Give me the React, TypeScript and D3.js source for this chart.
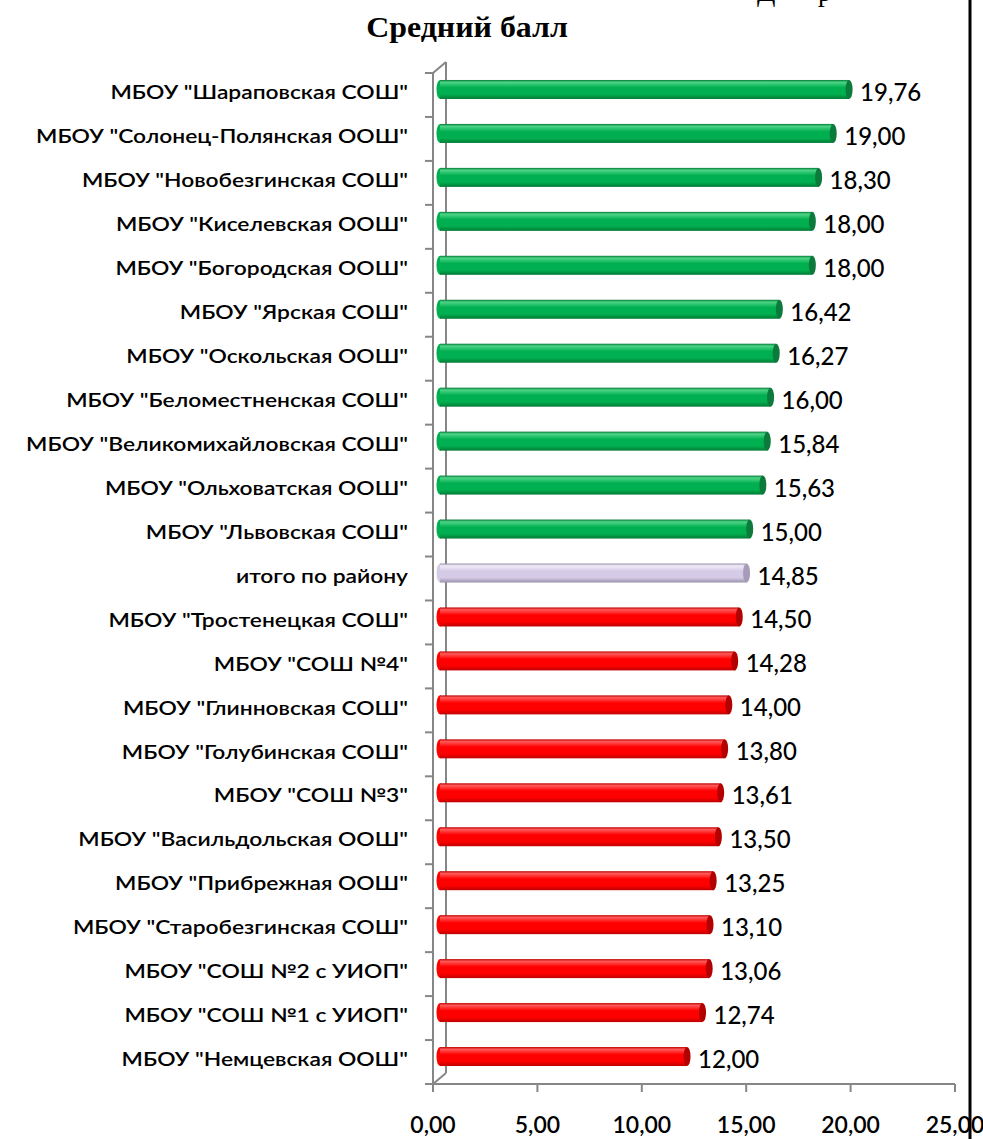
import React from 'react';
import * as d3 from 'd3';

// schools, sorted by average score
const categories = [
  'МБОУ "Шараповская СОШ"',
  'МБОУ "Солонец-Полянская ООШ"',
  'МБОУ "Новобезгинская СОШ"',
  'МБОУ "Киселевская ООШ"',
  'МБОУ "Богородская ООШ"',
  'МБОУ "Ярская СОШ"',
  'МБОУ "Оскольская ООШ"',
  'МБОУ "Беломестненская СОШ"',
  'МБОУ "Великомихайловская СОШ"',
  'МБОУ "Ольховатская ООШ"',
  'МБОУ "Львовская СОШ"',
  'итого по району',
  'МБОУ "Тростенецкая СОШ"',
  'МБОУ "СОШ №4"',
  'МБОУ "Глинновская СОШ"',
  'МБОУ "Голубинская СОШ"',
  'МБОУ "СОШ №3"',
  'МБОУ "Васильдольская ООШ"',
  'МБОУ "Прибрежная ООШ"',
  'МБОУ "Старобезгинская СОШ"',
  'МБОУ "СОШ №2 с УИОП"',
  'МБОУ "СОШ №1 с УИОП"',
  'МБОУ "Немцевская ООШ"',
];

const scores = [
  19.76, 19.0, 18.3, 18.0, 18.0, 16.42, 16.27, 16.0, 15.84, 15.63, 15.0,
  14.85,
  14.5, 14.28, 14.0, 13.8, 13.61, 13.5, 13.25, 13.1, 13.06, 12.74, 12.0,
];

// above / total / below the district result
const groups = [
  'up', 'up', 'up', 'up', 'up', 'up', 'up', 'up', 'up', 'up', 'up',
  'total',
  'down', 'down', 'down', 'down', 'down', 'down', 'down', 'down', 'down', 'down', 'down',
];

const xTicks = [0, 5, 10, 15, 20, 25];

const title = 'Средний балл';

const palette: Record<string, { top: string; mid: string; bot: string; cap: string }> = {
  up: { top: '#4fd487', mid: '#00b050', bot: '#007a35', cap: '#0b7a3a' },
  total: { top: '#f1ecf8', mid: '#d5cbe6', bot: '#9a90ab', cap: '#a79bb9' },
  down: { top: '#ff5a5a', mid: '#ff0000', bot: '#c00000', cap: '#b30000' },
};

const W = 983;
const H = 1139;
const DX = 13; // 3d depth
const DY = -11;
const BAR_H = 19;

const fmt = (v: number) => d3.format('.2f')(v).replace('.', ',');

export default function App() {
  const x = d3.scaleLinear().domain([0, 25]).range([433, 955]);
  const y = d3.scaleBand<string>().domain(categories).range([73, 1084]);
  const bw = y.bandwidth();
  const axisColor = '#868686';
  const font = "Lato, 'Open Sans', sans-serif";

  return (
    <svg width={W} height={H} style={{ position: 'absolute', left: 0, top: 0, background: '#fff' }}>
      <defs>
        {Object.entries(palette).map(([k, c]) => (
          <linearGradient key={k} id={`g-${k}`} x1="0" y1="0" x2="0" y2="1">
            <stop offset="0%" stopColor={c.bot} />
            <stop offset="12%" stopColor={c.top} />
            <stop offset="40%" stopColor={c.mid} />
            <stop offset="75%" stopColor={c.mid} />
            <stop offset="100%" stopColor={c.bot} />
          </linearGradient>
        ))}
      </defs>

      {/* text above the chart, cut by the page edge as in the original */}
      <text x={757} y={1} fontFamily="'Liberation Serif', serif" fontSize={27}>Д</text>
      <text x={818} y={1} fontFamily="'Liberation Serif', serif" fontSize={27}>р</text>

      <text transform="translate(467,37) scale(1.1,1)" textAnchor="middle"
        fontFamily="'Liberation Serif', 'Times New Roman', serif" fontWeight="bold" fontSize={29}>{title}</text>

      {/* walls / axes */}
      <g stroke={axisColor} strokeWidth={2} fill="none">
        <line x1={x(0) + DX} y1={73 + DY} x2={x(0) + DX} y2={1084 + DY} />
        <line x1={x(0)} y1={73} x2={x(0) + DX} y2={73 + DY} />
        <line x1={x(0)} y1={1084} x2={x(0) + DX} y2={1084 + DY} />
        <line x1={x(0)} y1={73} x2={x(0)} y2={1092} />
        <line x1={x(0)} y1={1084} x2={x(25)} y2={1084} />
        {categories.map((c) => (
          <line key={c} x1={x(0) - 8} x2={x(0)} y1={y(c)!} y2={y(c)!} />
        ))}
        <line x1={x(0) - 8} x2={x(0)} y1={1084} y2={1084} />
        {xTicks.map((t) => (
          <line key={t} x1={x(t)} x2={x(t)} y1={1084} y2={1092} />
        ))}
      </g>

      {xTicks.map((t) => (
        <text key={t} x={x(t)} y={1133} textAnchor="middle" fontFamily={font} fontSize={23}
          fontWeight={600} fill="#000">{fmt(t)}</text>
      ))}

      {categories.map((c, i) => {
        const cy = y(c)! + bw / 2 + DY / 2;
        const x0 = x(0) + 4;
        const x1 = x(scores[i]) + DX / 2;
        const col = palette[groups[i]];
        return (
          <g key={c}>
            <text transform={`translate(408,${cy + 2}) scale(1.2,1)`} textAnchor="end"
              dominantBaseline="central" fontFamily={font}
              fontSize={19} fontWeight={600} fill="#000">{c}</text>
            <ellipse cx={x0 + 3} cy={cy} rx={3.5} ry={BAR_H / 2} fill={col.mid} />
            <rect x={x0 + 3} y={cy - BAR_H / 2} width={x1 - x0 - 6} height={BAR_H} fill={`url(#g-${groups[i]})`} />
            <ellipse cx={x1 - 3} cy={cy} rx={3.5} ry={BAR_H / 2} fill={col.cap} />
            <text x={x1 + 8} y={cy + 2} dominantBaseline="central" fontFamily={font} fontSize={24}
              fontWeight={500} fill="#000">{fmt(scores[i])}</text>
          </g>
        );
      })}

      <line x1={970} x2={970} y1={0} y2={H} stroke="#000" strokeWidth={3} />
    </svg>
  );
}
